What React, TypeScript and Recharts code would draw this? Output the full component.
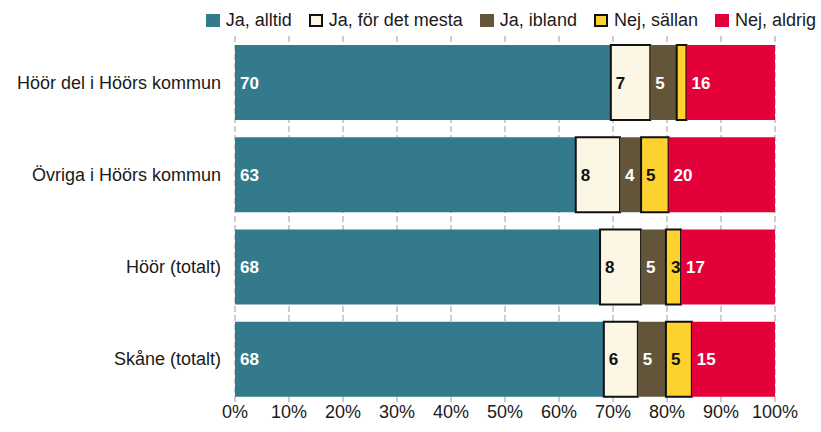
import { type ReactElement } from 'react';

import { Bar, BarChart, CartesianGrid, LabelList, Legend, XAxis, YAxis } from 'recharts';

const categories = [
  'Höör del i Höörs kommun',
  'Övriga i Höörs kommun',
  'Höör (totalt)',
  'Skåne (totalt)',
];

const seriesNames = ['Ja, alltid', 'Ja, för det mesta', 'Ja, ibland', 'Nej, sällan', 'Nej, aldrig'];

// Shares in percent, one value per category
const jaAlltid = [69.6, 63.1, 67.6, 68.3];
const jaForDetMesta = [7.3, 8.2, 7.6, 6.3];
const jaIbland = [4.9, 3.9, 4.6, 5.2];
const nejSallan = [1.8, 5.1, 2.8, 4.8];
const nejAldrig = [16.4, 19.7, 17.4, 15.4];

const xTicks = [0, 10, 20, 30, 40, 50, 60, 70, 80, 90, 100];

const FONT = '"Liberation Sans", Arial, sans-serif';
const TEXT = '#1a1a1a';

const SERIES_STYLE = [
  { key: 's0', fill: '#337a8d', stroke: 'none', label: '#ffffff' },
  { key: 's1', fill: '#fcf6e4', stroke: '#111111', label: '#111111' },
  { key: 's2', fill: '#62553a', stroke: 'none', label: '#ffffff' },
  { key: 's3', fill: '#fdd22e', stroke: '#111111', label: '#111111' },
  { key: 's4', fill: '#e40038', stroke: 'none', label: '#ffffff' },
];

const seriesValues = [jaAlltid, jaForDetMesta, jaIbland, nejSallan, nejAldrig];

const data = categories.map((name, i) => {
  const row: Record<string, string | number> = { name };
  seriesValues.forEach((vals, s) => {
    row[SERIES_STYLE[s].key] = vals[i];
  });
  return row;
});

function SegmentLabel(props: any): ReactElement | null {
  const { x, y, height, value, color } = props;
  if (value == null || Number(value) < 2) return null;
  return (
    <text
      x={Number(x) + 5}
      y={Number(y) + Number(height) / 2}
      dy="0.36em"
      fill={color}
      fontSize={17}
      fontWeight="bold"
      fontFamily={FONT}
    >
      {Math.round(Number(value))}
    </text>
  );
}

function ChartLegend(): ReactElement {
  return (
    <div
      style={{
        display: 'flex',
        justifyContent: 'flex-end',
        alignItems: 'center',
        height: 28,
        fontFamily: FONT,
        fontSize: 18,
        color: TEXT,
      }}
    >
      {seriesNames.map((name, i) => (
        <div key={name} style={{ display: 'flex', alignItems: 'center', marginLeft: 17 }}>
          <span
            style={{
              display: 'inline-block',
              width: 14,
              height: 13,
              boxSizing: 'border-box',
              background: SERIES_STYLE[i].fill,
              border: SERIES_STYLE[i].stroke === 'none' ? 'none' : `2px solid ${SERIES_STYLE[i].stroke}`,
              marginRight: 6,
            }}
          />
          <span>{name}</span>
        </div>
      ))}
    </div>
  );
}

export default function App(): ReactElement {
  return (
    <div style={{ position: 'absolute', left: 0, top: 0, width: 821, height: 432, background: '#fff' }}>
      <BarChart
        width={821}
        height={432}
        data={data}
        layout="vertical"
        margin={{ top: 8, right: 46, bottom: 0, left: 0 }}
        barSize={75}
      >
        <CartesianGrid horizontal={false} stroke="#bdbdbd" strokeWidth={1.5} strokeDasharray="6 3" />
        <XAxis
          type="number"
          domain={[0, 100]}
          ticks={xTicks}
          tickFormatter={(v: number) => `${v}%`}
          axisLine={false}
          tickLine={false}
          tickSize={0}
          tickMargin={0}
          height={27}
          tick={{ fill: TEXT, fontSize: 18, fontFamily: FONT }}
        />
        <YAxis
          type="category"
          dataKey="name"
          width={235}
          axisLine={false}
          tickLine={false}
          tickSize={0}
          tickMargin={14}
          tick={{ fill: TEXT, fontSize: 18, fontFamily: FONT }}
        />
        <Legend
          verticalAlign="top"
          align="right"
          wrapperStyle={{ top: 6, left: 0, right: 5, width: 'auto' }}
          content={() => <ChartLegend />}
        />
        {SERIES_STYLE.map((s, i) => (
          <Bar
            key={s.key}
            dataKey={s.key}
            name={seriesNames[i]}
            stackId="a"
            fill={s.fill}
            stroke={s.stroke}
            strokeWidth={s.stroke === 'none' ? 0 : 2}
            isAnimationActive={false}
          >
            <LabelList dataKey={s.key} content={(p: any) => <SegmentLabel {...p} color={s.label} />} />
          </Bar>
        ))}
      </BarChart>
    </div>
  );
}
